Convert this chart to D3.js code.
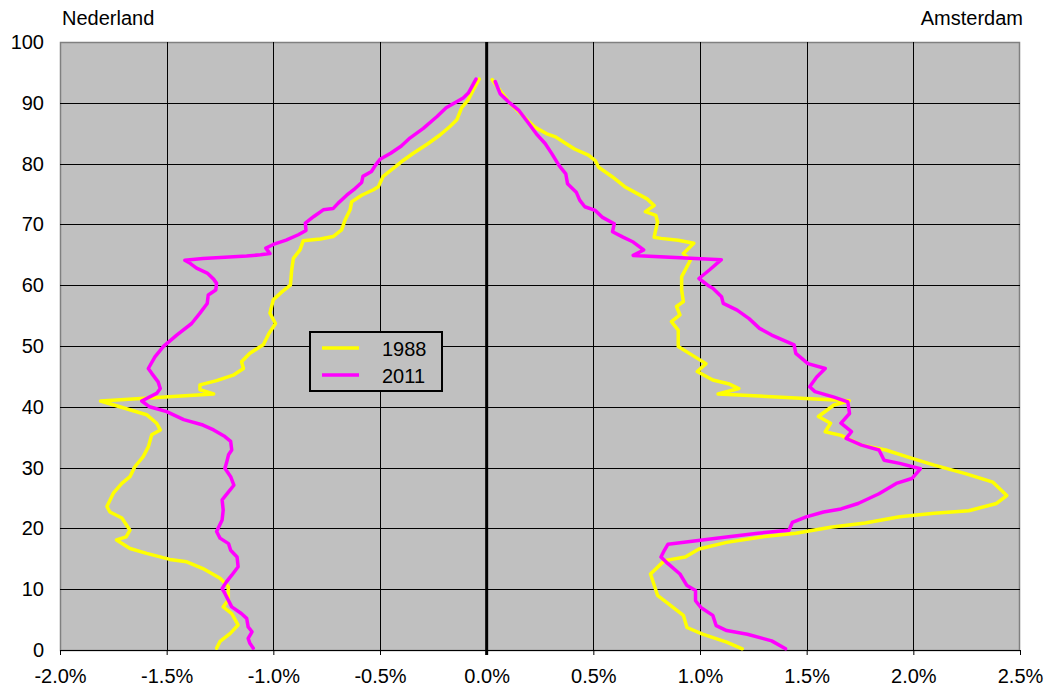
<!DOCTYPE html>
<html>
<head>
  <script src="https://d3js.org/d3.v7.min.js"></script>
  <style>
    body { margin: 0; background: #ffffff; }
    text { font-family: 'Liberation Sans', Arial, sans-serif; font-size: 20px; fill: #000; }
  </style>
</head>
<body>
  <div id="chart"></div>
  <script>
    // [age, % of population]; Nederland drawn on the negative side
    var nl1988 = [[93.9,-0.035],[92.1,-0.063],[90.5,-0.086],[89.2,-0.117],[87.2,-0.14],[86.1,-0.172],[84.7,-0.219],[83.3,-0.274],[81.7,-0.344],[80.3,-0.40],[79.2,-0.438],[77.9,-0.485],[76.2,-0.508],[75.7,-0.531],[74.8,-0.586],[73.7,-0.633],[72.4,-0.64],[70.7,-0.664],[69.1,-0.68],[68,-0.72],[67.6,-0.78],[67.3,-0.86],[65.8,-0.875],[64.4,-0.906],[62.5,-0.914],[60,-0.92],[58.9,-0.96],[57.6,-1.0],[55.4,-1.016],[53.7,-0.99],[52.1,-1.02],[50.2,-1.047],[48.8,-1.11],[47.4,-1.149],[46.3,-1.14],[45.2,-1.188],[44.3,-1.266],[43.6,-1.344],[42.8,-1.344],[42.1,-1.28],[40.95,-1.81],[40.0,-1.72],[38.7,-1.594],[37.3,-1.547],[36.2,-1.53],[35.4,-1.57],[33.4,-1.586],[31.8,-1.61],[30.1,-1.65],[28.5,-1.672],[27.4,-1.71],[25.8,-1.75],[23.6,-1.78],[22.7,-1.766],[21.7,-1.71],[19.7,-1.672],[18.6,-1.69],[18.1,-1.735],[16.7,-1.672],[15.9,-1.594],[14.9,-1.485],[14.5,-1.406],[13.4,-1.33],[11.8,-1.25],[10.4,-1.211],[8.2,-1.211],[7.1,-1.235],[6.0,-1.195],[4.1,-1.165],[2.7,-1.203],[1.4,-1.25],[0.3,-1.266]];

    var nl2011 = [[93.9,-0.05],[91.6,-0.086],[90.8,-0.11],[89.2,-0.19],[87.7,-0.234],[85.8,-0.297],[84.2,-0.36],[82.9,-0.40],[81.7,-0.45],[80.7,-0.50],[79.8,-0.52],[78.7,-0.54],[77.9,-0.58],[76.9,-0.586],[75.9,-0.617],[74.8,-0.656],[73.5,-0.696],[72.6,-0.72],[72.4,-0.766],[71.3,-0.81],[70.2,-0.85],[69,-0.847],[68.3,-0.883],[67.4,-0.94],[66.7,-1.0],[66.1,-1.035],[65.2,-1.016],[65.0,-1.06],[64.8,-1.125],[64.4,-1.33],[64.1,-1.415],[63.6,-1.39],[62.8,-1.36],[62,-1.31],[61,-1.28],[60.3,-1.266],[59.2,-1.27],[58.4,-1.305],[57,-1.31],[55.4,-1.344],[53.7,-1.383],[51.8,-1.453],[49.9,-1.516],[48.2,-1.555],[46.3,-1.586],[45.5,-1.57],[44.1,-1.54],[43.0,-1.53],[42.2,-1.547],[40.95,-1.617],[40.0,-1.58],[39.2,-1.5],[37.9,-1.42],[37.0,-1.33],[36.2,-1.28],[35.1,-1.227],[34.3,-1.20],[32.9,-1.195],[32.1,-1.21],[30.7,-1.22],[29.9,-1.227],[28.5,-1.20],[27.1,-1.185],[26.0,-1.21],[24.7,-1.24],[23.0,-1.235],[21.4,-1.24],[19.5,-1.266],[18.4,-1.25],[17.5,-1.21],[16.4,-1.20],[15.3,-1.17],[13.7,-1.165],[12.3,-1.195],[11.2,-1.22],[10.1,-1.24],[9.3,-1.227],[7.1,-1.195],[6.0,-1.15],[5.2,-1.125],[3.8,-1.118],[3.0,-1.10],[1.9,-1.118],[1.1,-1.11],[0.3,-1.094]];

    var ams1988 = [[93.8,0.026],[92.0,0.063],[89.8,0.112],[88.5,0.152],[87.1,0.193],[86.0,0.225],[84.9,0.282],[84.4,0.323],[83.3,0.371],[82.4,0.412],[81.4,0.477],[80.5,0.509],[79.4,0.525],[77.8,0.59],[76.2,0.647],[75.1,0.704],[74.2,0.752],[73.1,0.785],[72.1,0.744],[71.5,0.793],[70.4,0.801],[67.9,0.785],[67.7,0.817],[67.4,0.898],[66.9,0.971],[65.2,0.922],[64.1,0.955],[61.4,0.914],[59.2,0.914],[57.3,0.922],[56.5,0.89],[55.1,0.906],[54.0,0.866],[52.6,0.898],[51.0,0.898],[49.9,0.898],[48.5,0.963],[47.1,1.028],[45.8,0.987],[44.4,1.06],[43.8,1.133],[43.0,1.182],[42.1,1.085],[41.0,1.70],[40.3,1.628],[38.4,1.555],[37.3,1.612],[35.9,1.587],[35.3,1.661],[33.7,1.757],[32.9,1.871],[31.8,1.968],[30.4,2.098],[29.0,2.244],[27.6,2.373],[25.4,2.438],[24.1,2.39],[22.9,2.26],[22.5,2.098],[21.9,1.936],[20.9,1.774],[20.2,1.612],[19.2,1.449],[18.6,1.287],[17.7,1.125],[16.6,0.995],[15.3,0.931],[14.7,0.833],[12.5,0.768],[9.0,0.801],[5.7,0.922],[3.7,0.939],[2.6,1.012],[1.3,1.125],[0.2,1.198]];

    var ams2011 = [[93.5,0.04],[91.5,0.063],[90.1,0.104],[88.7,0.152],[86.8,0.193],[84.9,0.233],[83.3,0.274],[81.6,0.306],[79.7,0.339],[78.3,0.371],[76.7,0.379],[75.3,0.42],[74.0,0.436],[72.9,0.46],[72.3,0.509],[71.2,0.541],[70.1,0.598],[68.8,0.59],[67.9,0.639],[67.1,0.687],[65.8,0.736],[64.9,0.687],[64.2,1.10],[62.5,1.044],[61.1,0.995],[60.0,1.036],[59.5,1.06],[58.1,1.101],[57.0,1.109],[55.9,1.174],[54.5,1.23],[52.9,1.279],[51.8,1.336],[50.2,1.441],[48.8,1.449],[47.1,1.506],[46.3,1.587],[44.9,1.547],[43.3,1.514],[42.5,1.539],[41.6,1.628],[40.8,1.693],[38.9,1.701],[37.3,1.661],[35.9,1.71],[34.8,1.685],[33.7,1.757],[32.9,1.839],[31.2,1.863],[30.7,1.936],[29.8,2.033],[28.2,1.993],[27.4,1.92],[25.7,1.839],[24.1,1.741],[23.2,1.661],[22.7,1.579],[21.9,1.498],[21.0,1.433],[19.7,1.417],[19.2,1.271],[18.6,1.125],[17.9,0.963],[17.4,0.85],[16.4,0.833],[15.3,0.817],[14.2,0.85],[12.5,0.906],[10.6,0.939],[9.8,0.979],[8.1,0.979],[7.0,1.004],[5.7,1.06],[4.0,1.076],[3.2,1.125],[2.6,1.222],[1.5,1.336],[0.2,1.401]];

    var xTicks = [-2.0, -1.5, -1.0, -0.5, 0.0, 0.5, 1.0, 1.5, 2.0, 2.5];
    var yTicks = [0, 10, 20, 30, 40, 50, 60, 70, 80, 90, 100];
    var legendNames = ["1988", "2011"];
    var colours = ["#ffff00", "#ff00ff"];

    var width = 1047, height = 693;
    var margin = { top: 42, right: 27, bottom: 43, left: 60 };
    var w = width - margin.left - margin.right;
    var h = height - margin.top - margin.bottom;

    var svg = d3.select("#chart").append("svg")
      .attr("width", width)
      .attr("height", height);

    var g = svg.append("g")
      .attr("transform", "translate(" + margin.left + "," + margin.top + ")");

    var x = d3.scaleLinear().domain([-2.0, 2.5]).range([0, w]);
    var y = d3.scaleLinear().domain([0, 100]).range([h, 0]);

    // plot area
    g.append("rect")
      .attr("x", 0.5).attr("y", 0.5)
      .attr("width", w - 1)
      .attr("height", h)
      .style("fill", "#c0c0c0")
      .style("stroke", "#808080")
      .style("stroke-width", 1.5);

    // grid
    g.append("g")
      .selectAll("line.hgrid")
      .data(yTicks.slice(1, -1))
      .enter().append("line")
      .attr("x1", 0).attr("x2", w)
      .attr("y1", function (d) { return Math.round(y(d)) + 0.5; })
      .attr("y2", function (d) { return Math.round(y(d)) + 0.5; })
      .style("stroke", "#000");

    g.append("g")
      .selectAll("line.vgrid")
      .data(xTicks.filter(function (d) { return d != 0 && d != -2.0 && d != 2.5; }))
      .enter().append("line")
      .attr("y1", 0).attr("y2", h)
      .attr("x1", function (d) { return Math.round(x(d)) + 0.5; })
      .attr("x2", function (d) { return Math.round(x(d)) + 0.5; })
      .style("stroke", "#000");

    var fmt = function (d) { return (d < 0 ? "-" : "") + Math.abs(d).toFixed(1) + "%"; };

    var xAxis = g.append("g")
      .attr("transform", "translate(0," + h + ")")
      .call(d3.axisBottom(x).tickValues(xTicks).tickFormat(fmt).tickSize(5).tickSizeOuter(0).tickPadding(14));
    xAxis.select(".domain").style("stroke", "#000");
    xAxis.selectAll("line").style("stroke", "#000");
    xAxis.selectAll("text").style("font-size", "20px").attr("font-family", null);

    var yAxis = g.append("g")
      .call(d3.axisLeft(y).tickValues(yTicks).tickSize(0).tickSizeOuter(0).tickPadding(16));
    yAxis.select(".domain").remove();
    yAxis.selectAll("text").style("font-size", "20px").attr("font-family", null);

    var line = d3.line()
      .x(function (d) { return x(d[1]); })
      .y(function (d) { return y(d[0]); });

    var series = [
      { data: nl1988, c: 0 }, { data: nl2011, c: 1 },
      { data: ams1988, c: 0 }, { data: ams2011, c: 1 }
    ];

    g.append("g")
      .selectAll("path")
      .data(series)
      .enter().append("path")
      .attr("d", function (d) { return line(d.data); })
      .style("fill", "none")
      .style("stroke", function (d) { return colours[d.c]; })
      .style("stroke-width", 3.5)
      .style("stroke-linejoin", "round")
      .style("stroke-linecap", "round");

    // zero axis
    g.append("line")
      .attr("x1", x(0)).attr("x2", x(0))
      .attr("y1", 0).attr("y2", h + 5)
      .style("stroke", "#000")
      .style("stroke-width", 3);

    // titles
    svg.append("text").attr("x", 62).attr("y", 25).text("Nederland");
    svg.append("text").attr("x", 1023).attr("y", 25).attr("text-anchor", "end").text("Amsterdam");

    // legend
    var legend = svg.append("g").attr("transform", "translate(310,332)");
    legend.append("rect")
      .attr("width", 132).attr("height", 59)
      .style("fill", "#c0c0c0")
      .style("stroke", "#000")
      .style("stroke-width", 2);
    var item = legend.selectAll("g.item")
      .data(legendNames)
      .enter().append("g")
      .attr("transform", function (d, i) { return "translate(0," + (16 + i * 27) + ")"; });
    item.append("line")
      .attr("x1", 12).attr("x2", 49)
      .style("stroke", function (d, i) { return colours[i]; })
      .style("stroke-width", 3.5);
    item.append("text")
      .attr("x", 72).attr("y", 8)
      .text(function (d) { return d; });
  </script>
</body>
</html>
